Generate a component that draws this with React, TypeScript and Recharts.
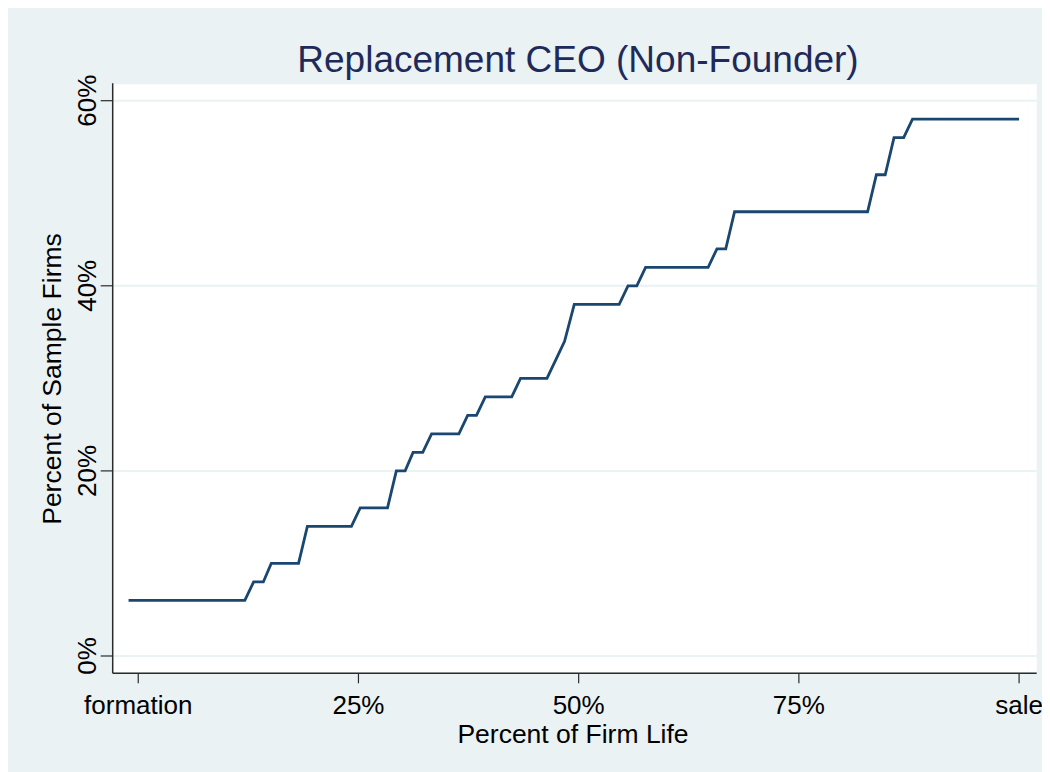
import React from "react";
import { LineChart, Line, XAxis, YAxis, CartesianGrid } from "recharts";

// Percent of firm life (x) and cumulative percent of sample firms with a replacement CEO (y)
const firmLifePct = [-1.1, 12.1, 13.1, 14.2, 15.1, 18.2, 19.2, 24.2, 25.2, 28.3, 29.3, 30.3, 31.2, 32.3, 33.3, 36.4, 37.4, 38.4, 39.4, 42.4, 43.4, 46.4, 47.4, 48.4, 49.5, 54.6, 55.6, 56.6, 57.6, 64.7, 65.7, 66.7, 67.7, 82.8, 83.8, 84.8, 85.8, 86.9, 87.9, 100];
const sampleFirmsPct = [6, 6, 8, 8, 10, 10, 14, 14, 16, 16, 20, 20, 22, 22, 24, 24, 26, 26, 28, 28, 30, 30, 32, 34, 38, 38, 40, 40, 42, 42, 44, 44, 48, 48, 52, 52, 56, 56, 58, 58];

const xTicks = [0, 25, 50, 75, 100];
const xTickLabels = ["formation", "25%", "50%", "75%", "sale"];
const yTicks = [0, 20, 40, 60];
const yTickLabels = ["0%", "20%", "40%", "60%"];

const title = "Replacement CEO (Non-Founder)";
const xTitle = "Percent of Firm Life";
const yTitle = "Percent of Sample Firms";

const data = firmLifePct.map((x, i) => ({ x, y: sampleFirmsPct[i] }));

const FONT = "'Liberation Sans', Arial, Helvetica, sans-serif";
const BG = "#EAF2F3";
const LINE = "#1A476F";
const AXIS = "#2b2b2b";

const XTick = (props: any) => {
  const { x, payload } = props;
  const idx = xTicks.indexOf(payload.value);
  return (
    <text x={x} y={706} textAnchor="middle" fontSize={26} fontFamily={FONT} fill="#000">
      {idx >= 0 ? xTickLabels[idx] : ""}
    </text>
  );
};

const YTick = (props: any) => {
  const { y, payload } = props;
  const idx = yTicks.indexOf(payload.value);
  const bx = 88;
  return (
    <text x={bx} y={y} textAnchor="middle" fontSize={26} fontFamily={FONT} fill="#000" transform={`rotate(-90, ${bx}, ${y})`}>
      {idx >= 0 ? yTickLabels[idx] : ""}
    </text>
  );
};

export default function App() {
  const W = 1042;
  const H = 764;
  return (
    <div style={{ position: "relative", width: W, height: H, background: BG, fontFamily: FONT }}>
      <LineChart width={W} height={H} data={data} margin={{ top: 75.3, right: 13.3, bottom: 0, left: 0 }}>
        <CartesianGrid horizontal={true} vertical={false} stroke={BG} strokeWidth={2} fill="#ffffff" fillOpacity={1} />
        <XAxis
          type="number"
          dataKey="x"
          domain={[-2.9, 102]}
          allowDataOverflow
          ticks={xTicks}
          height={98.7}
          tickSize={10}
          axisLine={{ stroke: AXIS, strokeWidth: 1.5 }}
          tickLine={{ stroke: AXIS, strokeWidth: 1.2 }}
          tick={<XTick />}
          interval={0}
        />
        <YAxis
          type="number"
          domain={[-1.87, 61.88]}
          allowDataOverflow
          ticks={yTicks}
          width={104.7}
          tickSize={12}
          axisLine={{ stroke: AXIS, strokeWidth: 1.5 }}
          tickLine={{ stroke: AXIS, strokeWidth: 1.2 }}
          tick={<YTick />}
          interval={0}
        />
        <Line type="linear" dataKey="y" stroke={LINE} strokeWidth={2.8} dot={false} activeDot={false} isAnimationActive={false} />
      </LineChart>
      <svg width={W} height={H} style={{ position: "absolute", left: 0, top: 0, pointerEvents: "none" }}>
        <text x={570} y={64} textAnchor="middle" fontSize={37} fontFamily={FONT} fill="#1E2B5A">
          {title}
        </text>
        <text x={565} y={735} textAnchor="middle" fontSize={26.5} fontFamily={FONT} fill="#000">
          {xTitle}
        </text>
        <text x={53} y={371} textAnchor="middle" fontSize={26.5} fontFamily={FONT} fill="#000" transform="rotate(-90, 53, 371)">
          {yTitle}
        </text>
      </svg>
    </div>
  );
}
